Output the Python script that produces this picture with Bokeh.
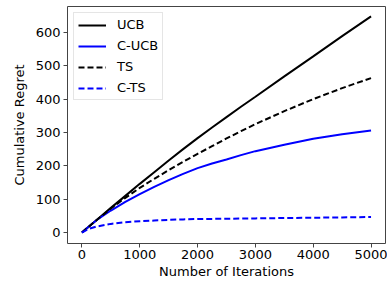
from bokeh.plotting import figure
from bokeh.models import Range1d, Legend, LegendItem, FixedTicker
from bokeh.embed import file_html
from bokeh.resources import INLINE

# Data
iters = [0, 100, 250, 500, 750, 1000, 1250, 1500, 1750, 2000, 2250, 2500, 2750, 3000, 3500, 4000, 4500, 5000]
ucb = [0, 15, 37, 74, 110, 146, 181, 216, 250, 283, 315, 346, 377, 407, 468, 528, 589, 648]
cucb = [0, 15, 37, 66, 92, 115, 137, 157, 176, 193, 207, 219, 232, 244, 263, 281, 295, 306]
ts = [0, 15, 37, 72, 104, 134, 161, 187, 212, 236, 259, 282, 304, 325, 364, 400, 433, 463]
cts = [0, 10, 18, 26, 31, 34, 36, 38, 39.5, 40.5, 41, 41.5, 42, 42.5, 43.5, 44.5, 45.5, 46.5]
x_ticks = [0, 1000, 2000, 3000, 4000, 5000]
y_ticks = [0, 100, 200, 300, 400, 500, 600]

FONT = "DejaVu Sans"

p = figure(width=387, height=281, output_backend="svg", toolbar_location=None,
           x_range=Range1d(-250, 5250), y_range=Range1d(-32.8, 677.6),
           min_border_left=67, min_border_right=2, min_border_top=6, min_border_bottom=37)

r1 = p.line(iters, ucb, line_color="black", line_width=2)
r2 = p.line(iters, cucb, line_color="#0000ff", line_width=2)
r3 = p.line(iters, ts, line_color="black", line_width=2, line_dash="6 3")
r4 = p.line(iters, cts, line_color="#0000ff", line_width=2, line_dash="6 3")

p.xgrid.visible = False
p.ygrid.visible = False
p.outline_line_color = "#444444"
p.outline_line_width = 1

p.xaxis.ticker = FixedTicker(ticks=x_ticks)
p.yaxis.ticker = FixedTicker(ticks=y_ticks)
for ax in (p.xaxis[0], p.yaxis[0]):
    ax.axis_line_color = None
    ax.major_tick_line_color = "#444444"
    ax.major_tick_out = 4
    ax.major_tick_in = 0
    ax.minor_tick_line_color = None
    ax.major_label_text_font = FONT
    ax.major_label_text_font_size = "13px"
    ax.major_label_text_color = "black"
    ax.axis_label_text_font = FONT
    ax.axis_label_text_font_size = "13px"
    ax.axis_label_text_font_style = "normal"
    ax.axis_label_text_color = "black"
p.xaxis.axis_label = "Number of Iterations"
p.yaxis.axis_label = "Cumulative Regret"
p.xaxis.major_label_standoff = 2
p.xaxis.axis_label_standoff = 2
p.yaxis.major_label_standoff = 3
p.yaxis.axis_label_standoff = 6

legend = Legend(items=[
    LegendItem(label="UCB", renderers=[r1]),
    LegendItem(label="C-UCB", renderers=[r2]),
    LegendItem(label="TS", renderers=[r3]),
    LegendItem(label="C-TS", renderers=[r4]),
], location="top_left")
legend.label_text_font = FONT
legend.label_text_font_size = "13px"
legend.label_text_color = "black"
legend.glyph_width = 28
legend.glyph_height = 14
legend.label_height = 14
legend.spacing = 6
legend.padding = 4
legend.margin = 6
legend.label_standoff = 11
legend.border_line_color = "#cccccc"
legend.border_line_width = 1
legend.background_fill_alpha = 0.8
p.add_layout(legend, "center")

open("out.html", "w").write(file_html(p, INLINE))
